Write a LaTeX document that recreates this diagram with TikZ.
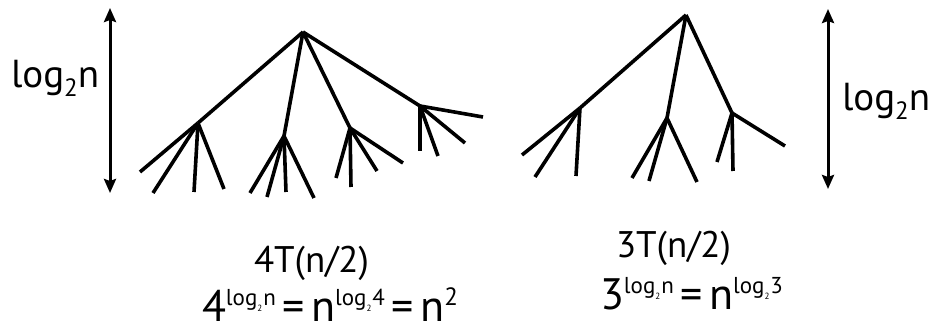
\documentclass[tikz,border=0pt]{standalone}
\usepackage{fontspec}
\setmainfont{PT Sans}
\usetikzlibrary{arrows.meta}
\newcommand\explog[1]{\raisebox{17pt}{\fontsize{23}{23}\selectfont log\raisebox{-7pt}{\fontsize{9}{9}\selectfont 2}\kern1pt#1}}
\newcommand\eqsign{\kern7pt=\kern6pt}
\newcommand\labfont{\fontsize{39}{39}\selectfont}
\newcommand\ttlfont{\fontsize{37}{37}\selectfont}
\newcommand\formfont{\fontsize{44}{44}\selectfont}
\tikzset{
  edge/.style={line width=3.6pt},
  height/.style={line width=3pt,{Stealth[length=14pt,width=12pt,inset=2pt]}-{Stealth[length=14pt,width=12pt,inset=2pt]}},
  lbl/.style={anchor=base west,inner sep=0pt,outer sep=0pt},
}
\begin{document}
\begin{tikzpicture}[x=1pt,y=-1pt]
\useasboundingbox (0,0) rectangle (930,331);
% ---------- left tree ----------
\coordinate (L) at (303,32);
\coordinate (La) at (198,123);
\coordinate (Lb) at (284,136);
\coordinate (Lc) at (350,128);
\coordinate (Ld) at (420,106);
\coordinate (La1) at (140,172);
\coordinate (La2) at (153,193);
\coordinate (La3) at (194,192);
\coordinate (La4) at (224,189);
\coordinate (Lb1) at (250,193);
\coordinate (Lb2) at (267,197);
\coordinate (Lb3) at (286,192);
\coordinate (Lb4) at (314,198);
\coordinate (Lc1) at (336,178);
\coordinate (Lc2) at (351,187);
\coordinate (Lc3) at (377,171);
\coordinate (Lc4) at (403,163);
\coordinate (Ld1) at (420,151);
\coordinate (Ld2) at (438,156);
\coordinate (Ld3) at (465,143);
\coordinate (Ld4) at (483,117);
\foreach \c in {a,b,c,d}{
  \draw[edge] (L) -- (L\c);
  \foreach \i in {1,2,3,4}{ \draw[edge] (L\c) -- (L\c\i); }
}
% ---------- right tree ----------
\coordinate (R) at (686,15);
\coordinate (Ra) at (580,108);
\coordinate (Rb) at (667,118);
\coordinate (Rc) at (732,113);
\coordinate (Ra1) at (522,155);
\coordinate (Ra2) at (535,177);
\coordinate (Ra3) at (576,176);
\coordinate (Rb1) at (632,178);
\coordinate (Rb2) at (649,181);
\coordinate (Rb3) at (697,182);
\coordinate (Rc1) at (717,162);
\coordinate (Rc2) at (733,171);
\coordinate (Rc3) at (785,146);
\foreach \c in {a,b,c}{
  \draw[edge] (R) -- (R\c);
  \foreach \i in {1,2,3}{ \draw[edge] (R\c) -- (R\c\i); }
}
% ---------- height arrows ----------
\coordinate (hlt) at (110,8);
\coordinate (hlb) at (110,193);
\draw[height] (hlt) -- (hlb);
\coordinate (hrt) at (828,9);
\coordinate (hrb) at (828,189);
\draw[height] (hrt) -- (hrb);
% ---------- labels ----------
\node[lbl] (hl) at (11,88) {\labfont log\raisebox{-9pt}{\fontsize{25}{25}\selectfont 2}n};
\node[lbl] (hr) at (842,111) {\labfont log\raisebox{-9pt}{\fontsize{25}{25}\selectfont 2}n};
\node[lbl] (tl) at (254,273) {\ttlfont 4T(n/2)};
\node[lbl] (tr) at (616,258) {\ttlfont 3T(n/2)};
\node[lbl] (fl) at (202,322) {\formfont 4\explog{n}\eqsign n\explog{4}\eqsign n\raisebox{17pt}{\fontsize{25}{25}\selectfont 2}};
\node[lbl] (fr) at (600,310) {\formfont 3\explog{n}\eqsign n\explog{3}};
\end{tikzpicture}
\end{document}
